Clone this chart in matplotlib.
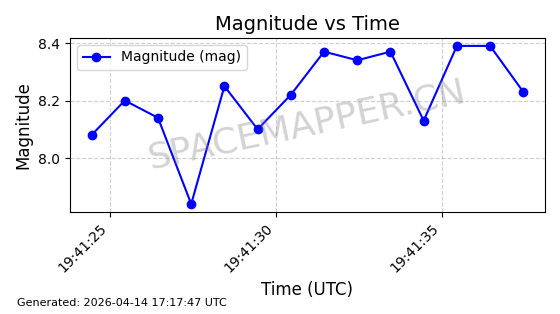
import matplotlib
matplotlib.use('Agg')
import matplotlib.pyplot as plt
import matplotlib.dates as mdates
import numpy as np
from datetime import datetime, timedelta

# observation times (seconds after 19:41:00 UTC) and magnitudes
seconds = [24.46, 25.46, 26.46, 27.46, 28.46, 29.46, 30.46,
           31.46, 32.46, 33.46, 34.46, 35.46, 36.46, 37.46]
magnitudes = [8.08, 8.20, 8.14, 7.84, 8.25, 8.10, 8.22,
              8.37, 8.34, 8.37, 8.13, 8.39, 8.39, 8.23]
generated_text = 'Generated: 2026-04-14 17:17:47 UTC'

t0 = datetime(2026, 4, 14, 19, 41, 0)
times = [t0 + timedelta(seconds=s) for s in seconds]

fig = plt.figure(figsize=(5.6, 3.14), dpi=100)
ax = fig.add_axes([0.125, 0.325, 0.848, 0.554])

ax.plot(times, magnitudes, color='blue', marker='o', markersize=6,
        linewidth=1.5, label='Magnitude (mag)')

ax.set_title('Magnitude vs Time', fontsize=14)
ax.set_xlabel('Time (UTC)', fontsize=12)
ax.set_ylabel('Magnitude', fontsize=12)
ax.grid(True, linestyle='--', alpha=0.6)
ax.legend(loc='upper left', fontsize=10)

ax.xaxis.set_major_locator(mdates.SecondLocator(bysecond=range(0, 60, 5)))
ax.xaxis.set_major_formatter(mdates.DateFormatter('%H:%M:%S'))
ax.set_yticks([8.0, 8.2, 8.4])
plt.setp(ax.get_xticklabels(), rotation=45, ha='right')

# watermark
ax.text(0.5, 0.5, 'SPACEMAPPER.CN', transform=ax.transAxes,
        fontsize=26, color='gray', alpha=0.35, rotation=12,
        ha='center', va='center')

fig.text(0.03, 0.025, generated_text, fontsize=8)

fig.savefig('out.png', dpi=100)
